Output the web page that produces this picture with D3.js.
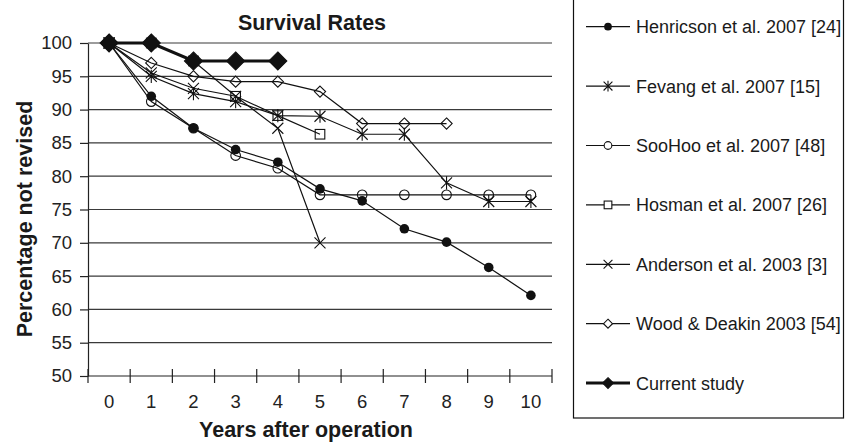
<!DOCTYPE html>
<html>
<head>
<meta charset="utf-8">
<script src="https://cdn.jsdelivr.net/npm/d3@7"></script>
<style>
  html, body { margin: 0; padding: 0; background: #fff; }
  svg { display: block; font-family: Arial, 'Liberation Sans', Helvetica, sans-serif; }
</style>
</head>
<body>
<svg id="chart" width="851" height="444"></svg>
<script>
// years on the x axis
const years = ['0', '1', '2', '3', '4', '5', '6', '7', '8', '9', '10'];
const yTicks = [50, 55, 60, 65, 70, 75, 80, 85, 90, 95, 100];

// values, one per year (shorter series stop early)
const henricson = [100, 92, 87.2, 84, 82.1, 78.1, 76.3, 72.1, 70.1, 66.3, 62.1];
const fevang = [100, 95, 92.4, 91.2, 89.1, 89, 86.3, 86.3, 79, 76.2, 76.2];
const sooHoo = [100, 91.2, 87.2, 83.1, 81.2, 77.2, 77.2, 77.2, 77.2, 77.2, 77.2];
const hosman = [100, 100, 97.3, 92, 89.1, 86.3];
const anderson = [100, 95.5, 93.2, 92, 87.2, 70];
const wood = [100, 97, 95, 94.2, 94.2, 92.7, 87.9, 87.9, 87.9];
const current = [100, 100, 97.3, 97.3, 97.3];

const seriesNames = [
	'Henricson et al. 2007 [24]',
	'Fevang et al. 2007 [15]',
	'SooHoo et al. 2007 [48]',
	'Hosman et al. 2007 [26]',
	'Anderson et al. 2003 [3]',
	'Wood & Deakin 2003 [54]',
	'Current study'
];
const seriesValues = [henricson, fevang, sooHoo, hosman, anderson, wood, current];
const seriesMarkers = ['dot', 'star', 'circle', 'square', 'cross', 'diamond', 'bigDiamond'];

const svg = d3.select('#chart');
const [plotLeft, plotRight, plotTop, plotBottom] = [88, 552, 43, 376];

const x = d3.scaleBand(years, [plotLeft, plotRight]).padding(0);
const y = d3.scaleLinear([50, 100], [plotBottom, plotTop]);
const cx = i => x(years[i]) + x.bandwidth() / 2;

// grid lines (every tick except the axis itself)
svg.append('g')
	.selectAll('line')
	.data(yTicks.filter(v => v > 50))
	.join('line')
	.attr('x1', plotLeft)
	.attr('x2', plotRight)
	.attr('y1', d => y(d))
	.attr('y2', d => y(d))
	.attr('stroke', '#3a3a3a')
	.attr('stroke-width', 1.2);

// y axis on the left, ticks pointing out
const yAxis = svg.append('g')
	.attr('transform', `translate(${plotLeft},0)`)
	.call(d3.axisLeft(y).tickValues(yTicks).tickSize(8).tickPadding(8).tickSizeOuter(0));
yAxis.select('.domain').attr('stroke', '#222').attr('stroke-width', 1.2);
yAxis.selectAll('.tick line').attr('stroke', '#222').attr('stroke-width', 1.2);
yAxis.attr('font-family', null).attr('font-size', null);
yAxis.selectAll('text').attr('font-size', 18.5).attr('fill', '#222');

// x axis: ticks sit on the band edges and cross the line
const xAxis = svg.append('g').attr('transform', `translate(0,${plotBottom})`);
xAxis.append('line')
	.attr('x1', plotLeft)
	.attr('x2', plotRight)
	.attr('stroke', '#222')
	.attr('stroke-width', 1.2);
xAxis.selectAll('.edge')
	.data(d3.range(years.length + 1))
	.join('line')
	.attr('class', 'edge')
	.attr('x1', i => plotLeft + i * x.step())
	.attr('x2', i => plotLeft + i * x.step())
	.attr('y1', -7)
	.attr('y2', 7)
	.attr('stroke', '#222')
	.attr('stroke-width', 1.2);
xAxis.selectAll('text')
	.data(years)
	.join('text')
	.attr('x', d => x(d) + x.bandwidth() / 2)
	.attr('y', 32)
	.attr('text-anchor', 'middle')
	.attr('font-size', 18.5)
	.attr('fill', '#222')
	.text(d => d);

// titles
svg.append('text')
	.attr('x', 312)
	.attr('y', 30)
	.attr('text-anchor', 'middle')
	.attr('font-size', 21.5)
	.attr('font-weight', 'bold')
	.attr('fill', '#1a1a1a')
	.text('Survival Rates');
svg.append('text')
	.attr('x', 306)
	.attr('y', 437)
	.attr('text-anchor', 'middle')
	.attr('font-size', 21.5)
	.attr('font-weight', 'bold')
	.attr('fill', '#1a1a1a')
	.text('Years after operation');
svg.append('text')
	.attr('transform', 'translate(32,219) rotate(-90)')
	.attr('text-anchor', 'middle')
	.attr('font-size', 21.5)
	.attr('font-weight', 'bold')
	.attr('fill', '#1a1a1a')
	.text('Percentage not revised');

// marker drawing, s = scale (1 for plot, smaller for legend)
// open markers are hollow so that overlapping markers show through
function drawMarker(g, type, px, py, s, fill) {
	if (type === 'dot') {
		g.append('circle').attr('cx', px).attr('cy', py).attr('r', 4.8 * s).attr('fill', '#111');
	} else if (type === 'circle') {
		g.append('circle').attr('cx', px).attr('cy', py).attr('r', 4.8 * s)
			.attr('fill', fill).attr('stroke', '#111').attr('stroke-width', 1.1);
	} else if (type === 'square') {
		const h = 4.8 * s;
		g.append('rect').attr('x', px - h).attr('y', py - h).attr('width', 2 * h).attr('height', 2 * h)
			.attr('fill', fill).attr('stroke', '#111').attr('stroke-width', 1.1);
	} else if (type === 'diamond' || type === 'bigDiamond') {
		const h = (type === 'bigDiamond' ? 9 : 5.6) * s;
		g.append('path')
			.attr('d', `M${px},${py - h}L${px + h},${py}L${px},${py + h}L${px - h},${py}Z`)
			.attr('fill', type === 'bigDiamond' ? '#111' : fill)
			.attr('stroke', '#111')
			.attr('stroke-width', 1.1);
	} else if (type === 'cross' || type === 'star') {
		const h = 5.5 * s;
		let d = `M${px - h},${py - h}L${px + h},${py + h}M${px - h},${py + h}L${px + h},${py - h}`;
		if (type === 'star') d += `M${px},${py - h * 1.2}L${px},${py + h * 1.2}`;
		g.append('path').attr('d', d).attr('stroke', '#111').attr('stroke-width', 1.1).attr('fill', 'none');
	}
}

const line = d3.line()
	.x((d, i) => cx(i))
	.y(d => y(d));

seriesValues.forEach((vals, k) => {
	const g = svg.append('g');
	g.append('path')
		.attr('d', line(vals))
		.attr('fill', 'none')
		.attr('stroke', '#111')
		.attr('stroke-width', seriesMarkers[k] === 'bigDiamond' ? 3.2 : 1.2);
	vals.forEach((v, i) => drawMarker(g, seriesMarkers[k], cx(i), y(v), 1, 'none'));
});

// legend box, top edge runs off the picture
const legend = svg.append('g');
legend.append('rect')
	.attr('x', 573.5)
	.attr('y', -2)
	.attr('width', 270)
	.attr('height', 420)
	.attr('fill', '#fff')
	.attr('stroke', '#111')
	.attr('stroke-width', 1.2);

const legendY = d3.scalePoint(seriesNames, [26.7, 383.1]);
seriesNames.forEach((name, k) => {
	const ly = legendY(name);
	const g = legend.append('g');
	g.append('line')
		.attr('x1', 586).attr('x2', 630)
		.attr('y1', ly).attr('y2', ly)
		.attr('stroke', '#111')
		.attr('stroke-width', seriesMarkers[k] === 'bigDiamond' ? 3 : 1.2);
	drawMarker(g, seriesMarkers[k], 608, ly, seriesMarkers[k] === 'bigDiamond' ? 0.6 : 0.8, '#fff');
	g.append('text')
		.attr('x', 636)
		.attr('y', ly)
		.attr('dy', '0.36em')
		.attr('font-size', 18)
		.attr('fill', '#1a1a1a')
		.text(name);
});
</script>
</body>
</html>
